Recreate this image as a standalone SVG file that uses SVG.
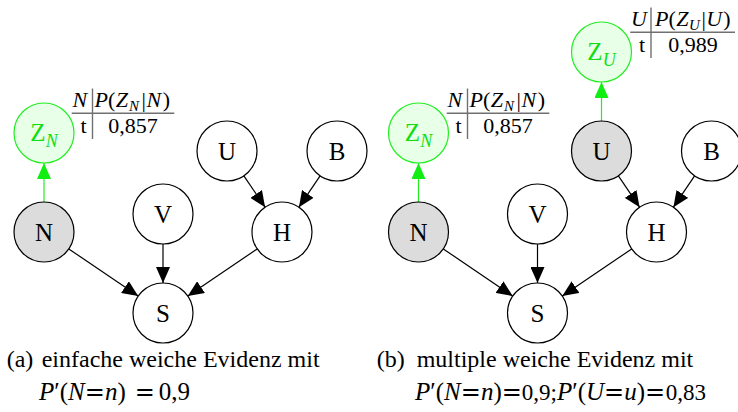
<svg xmlns="http://www.w3.org/2000/svg" width="738" height="412" viewBox="0 0 738 412" font-family="'Liberation Serif', 'Times New Roman', serif">
<style>
text { font-family: 'Liberation Serif', 'Times New Roman', serif; fill: #000; }
.node circle { fill: #fff; stroke: #000; stroke-width: 1.2; }
.node.obs circle { fill: #dcdcdc; }
.node.soft circle { fill: #e8ffe8; stroke: #22ee22; }
.node text { font-size: 25px; text-anchor: middle; }
.node.soft text { fill: #11dd11; }
.edge { stroke: #000; stroke-width: 1.2; fill: none; marker-end: url(#ah); }
.edge.g { stroke: #22ee22; marker-end: url(#ahg); }
.tbl line { stroke: #707070; stroke-width: 1.4; }
.tbl text { font-size: 22px; }
.tbl .sub { font-size: 15px; font-style: italic; }
.cap { font-size: 24px; }
.m { font-size: 25px; }
.i { font-style: italic; }
.eq { font-family: 'DejaVu Serif', serif; font-size: 24px; }
.d { font-size: 23px; }
.mid { text-anchor: middle; }
</style>
<defs>
<marker id="ah" viewBox="0 0 16 14" refX="16" refY="7" markerWidth="16" markerHeight="14" markerUnits="userSpaceOnUse" orient="auto">
<path d="M0,0 L16,7 L0,14 z" fill="#000"/>
</marker>
<marker id="ahg" viewBox="0 0 16 14" refX="16" refY="7" markerWidth="16" markerHeight="14" markerUnits="userSpaceOnUse" orient="auto">
<path d="M0,0 L16,7 L0,14 z" fill="#11ee11"/>
</marker>
</defs>

<g id="connectors">
<line class="edge g" x1="44" y1="202" x2="44" y2="163"/>
<line class="edge" x1="68.8" y1="248.9" x2="138.2" y2="296.1"/>
<line class="edge" x1="163" y1="244" x2="163" y2="283"/>
<line class="edge" x1="257.2" y1="248.9" x2="187.8" y2="296.1"/>
<line class="edge" x1="243.9" y1="175.8" x2="265.1" y2="207.2"/>
<line class="edge" x1="320.1" y1="175.8" x2="298.9" y2="207.2"/>

<line class="edge g" x1="418.5" y1="202" x2="418.5" y2="163"/>
<line class="edge g" x1="601.5" y1="121" x2="601.5" y2="82"/>
<line class="edge" x1="443.3" y1="248.9" x2="512.7" y2="296.1"/>
<line class="edge" x1="537.5" y1="244" x2="537.5" y2="283"/>
<line class="edge" x1="631.7" y1="248.9" x2="562.3" y2="296.1"/>
<line class="edge" x1="618.4" y1="175.8" x2="639.6" y2="207.2"/>
<line class="edge" x1="694.6" y1="175.8" x2="673.4" y2="207.2"/>
</g>

<!-- left diagram -->
<g id="a_ZN" class="node soft"><circle cx="44" cy="133" r="30"/><text x="44" y="141">Z<tspan class="i" font-size="18" dy="6">N</tspan></text></g>
<g id="a_N" class="node obs"><circle cx="44" cy="232" r="30"/><text x="44" y="241">N</text></g>
<g id="a_V" class="node"><circle cx="163" cy="214" r="30"/><text x="163" y="223">V</text></g>
<g id="a_U" class="node"><circle cx="227" cy="151" r="30"/><text x="227" y="160">U</text></g>
<g id="a_B" class="node"><circle cx="337" cy="151" r="30"/><text x="337" y="160">B</text></g>
<g id="a_H" class="node"><circle cx="282" cy="232" r="30"/><text x="282" y="241">H</text></g>
<g id="a_S" class="node"><circle cx="163" cy="313" r="30"/><text x="163" y="322">S</text></g>

<g id="a_table" class="tbl">
<line x1="71.7" y1="113.3" x2="174.3" y2="113.3"/>
<line x1="92.5" y1="88.5" x2="92.5" y2="139"/>
<text x="72.5" y="106.5" class="i">N</text>
<text x="94.5" y="106.5"><tspan class="i">P</tspan>(<tspan class="i" dx="0.5">Z</tspan><tspan class="sub" dx="1" dy="4">N</tspan><tspan dx="2.5" dy="-4">|</tspan><tspan class="i" dx="0.5">N</tspan><tspan dx="1.5">)</tspan></text>
<text x="80.5" y="133">t</text>
<text x="133" y="133" class="mid">0,857</text>
</g>

<!-- right diagram -->
<g id="b_ZN" class="node soft"><circle cx="418.5" cy="133" r="30"/><text x="418.5" y="141">Z<tspan class="i" font-size="18" dy="6">N</tspan></text></g>
<g id="b_ZU" class="node soft"><circle cx="601.5" cy="52" r="30"/><text x="601.5" y="60">Z<tspan class="i" font-size="18" dy="6">U</tspan></text></g>
<g id="b_N" class="node obs"><circle cx="418.5" cy="232" r="30"/><text x="418.5" y="241">N</text></g>
<g id="b_V" class="node"><circle cx="537.5" cy="214" r="30"/><text x="537.5" y="223">V</text></g>
<g id="b_U" class="node obs"><circle cx="601.5" cy="151" r="30"/><text x="601.5" y="160">U</text></g>
<g id="b_B" class="node"><circle cx="711.5" cy="151" r="30"/><text x="711.5" y="160">B</text></g>
<g id="b_H" class="node"><circle cx="656.5" cy="232" r="30"/><text x="656.5" y="241">H</text></g>
<g id="b_S" class="node"><circle cx="537.5" cy="313" r="30"/><text x="537.5" y="322">S</text></g>

<g id="b_table_N" class="tbl" transform="translate(375,0)">
<line x1="71.7" y1="113.3" x2="174.3" y2="113.3"/>
<line x1="92.5" y1="88.5" x2="92.5" y2="139"/>
<text x="72.5" y="106.5" class="i">N</text>
<text x="94.5" y="106.5"><tspan class="i">P</tspan>(<tspan class="i" dx="0.5">Z</tspan><tspan class="sub" dx="1" dy="4">N</tspan><tspan dx="2.5" dy="-4">|</tspan><tspan class="i" dx="0.5">N</tspan><tspan dx="1.5">)</tspan></text>
<text x="80.5" y="133">t</text>
<text x="133" y="133" class="mid">0,857</text>
</g>

<g id="b_table_U" class="tbl" transform="translate(558.5,-81)">
<line x1="71.7" y1="113.3" x2="176.5" y2="113.3"/>
<line x1="92.5" y1="88.5" x2="92.5" y2="139"/>
<text x="72.5" y="106.5" class="i">U</text>
<text x="96.5" y="106.5"><tspan class="i">P</tspan>(<tspan class="i" dx="0.5">Z</tspan><tspan class="sub" dx="0.5" dy="4">U</tspan><tspan dx="1.5" dy="-4">|</tspan><tspan class="i" dx="0.5">U</tspan><tspan dx="1">)</tspan></text>
<text x="80.5" y="133">t</text>
<text x="134.5" y="133" class="mid">0,989</text>
</g>

<!-- captions -->
<g id="caption_a">
<text x="6.7" y="367" class="cap">(a)</text>
<text x="41.7" y="367" class="cap">einfache weiche Evidenz mit</text>
<text x="39" y="400" class="m"><tspan class="i">P</tspan>′(<tspan class="i">N</tspan><tspan class="eq">=</tspan><tspan class="i">n</tspan>)<tspan class="eq" dx="9">=</tspan><tspan dx="4">0,9</tspan></text>
</g>
<g id="caption_b">
<text x="376.7" y="367" class="cap">(b)</text>
<text x="416.7" y="367" class="cap">multiple weiche Evidenz mit</text>
<text x="415" y="400" class="m"><tspan class="i">P</tspan>′(<tspan class="i">N</tspan><tspan class="eq">=</tspan><tspan class="i">n</tspan>)<tspan class="eq">=</tspan><tspan class="d">0,9;</tspan><tspan class="i">P</tspan>′(<tspan class="i">U</tspan><tspan class="eq">=</tspan><tspan class="i">u</tspan>)<tspan class="eq">=</tspan><tspan class="d" dx="0.5">0,83</tspan></text>
</g>
</svg>
